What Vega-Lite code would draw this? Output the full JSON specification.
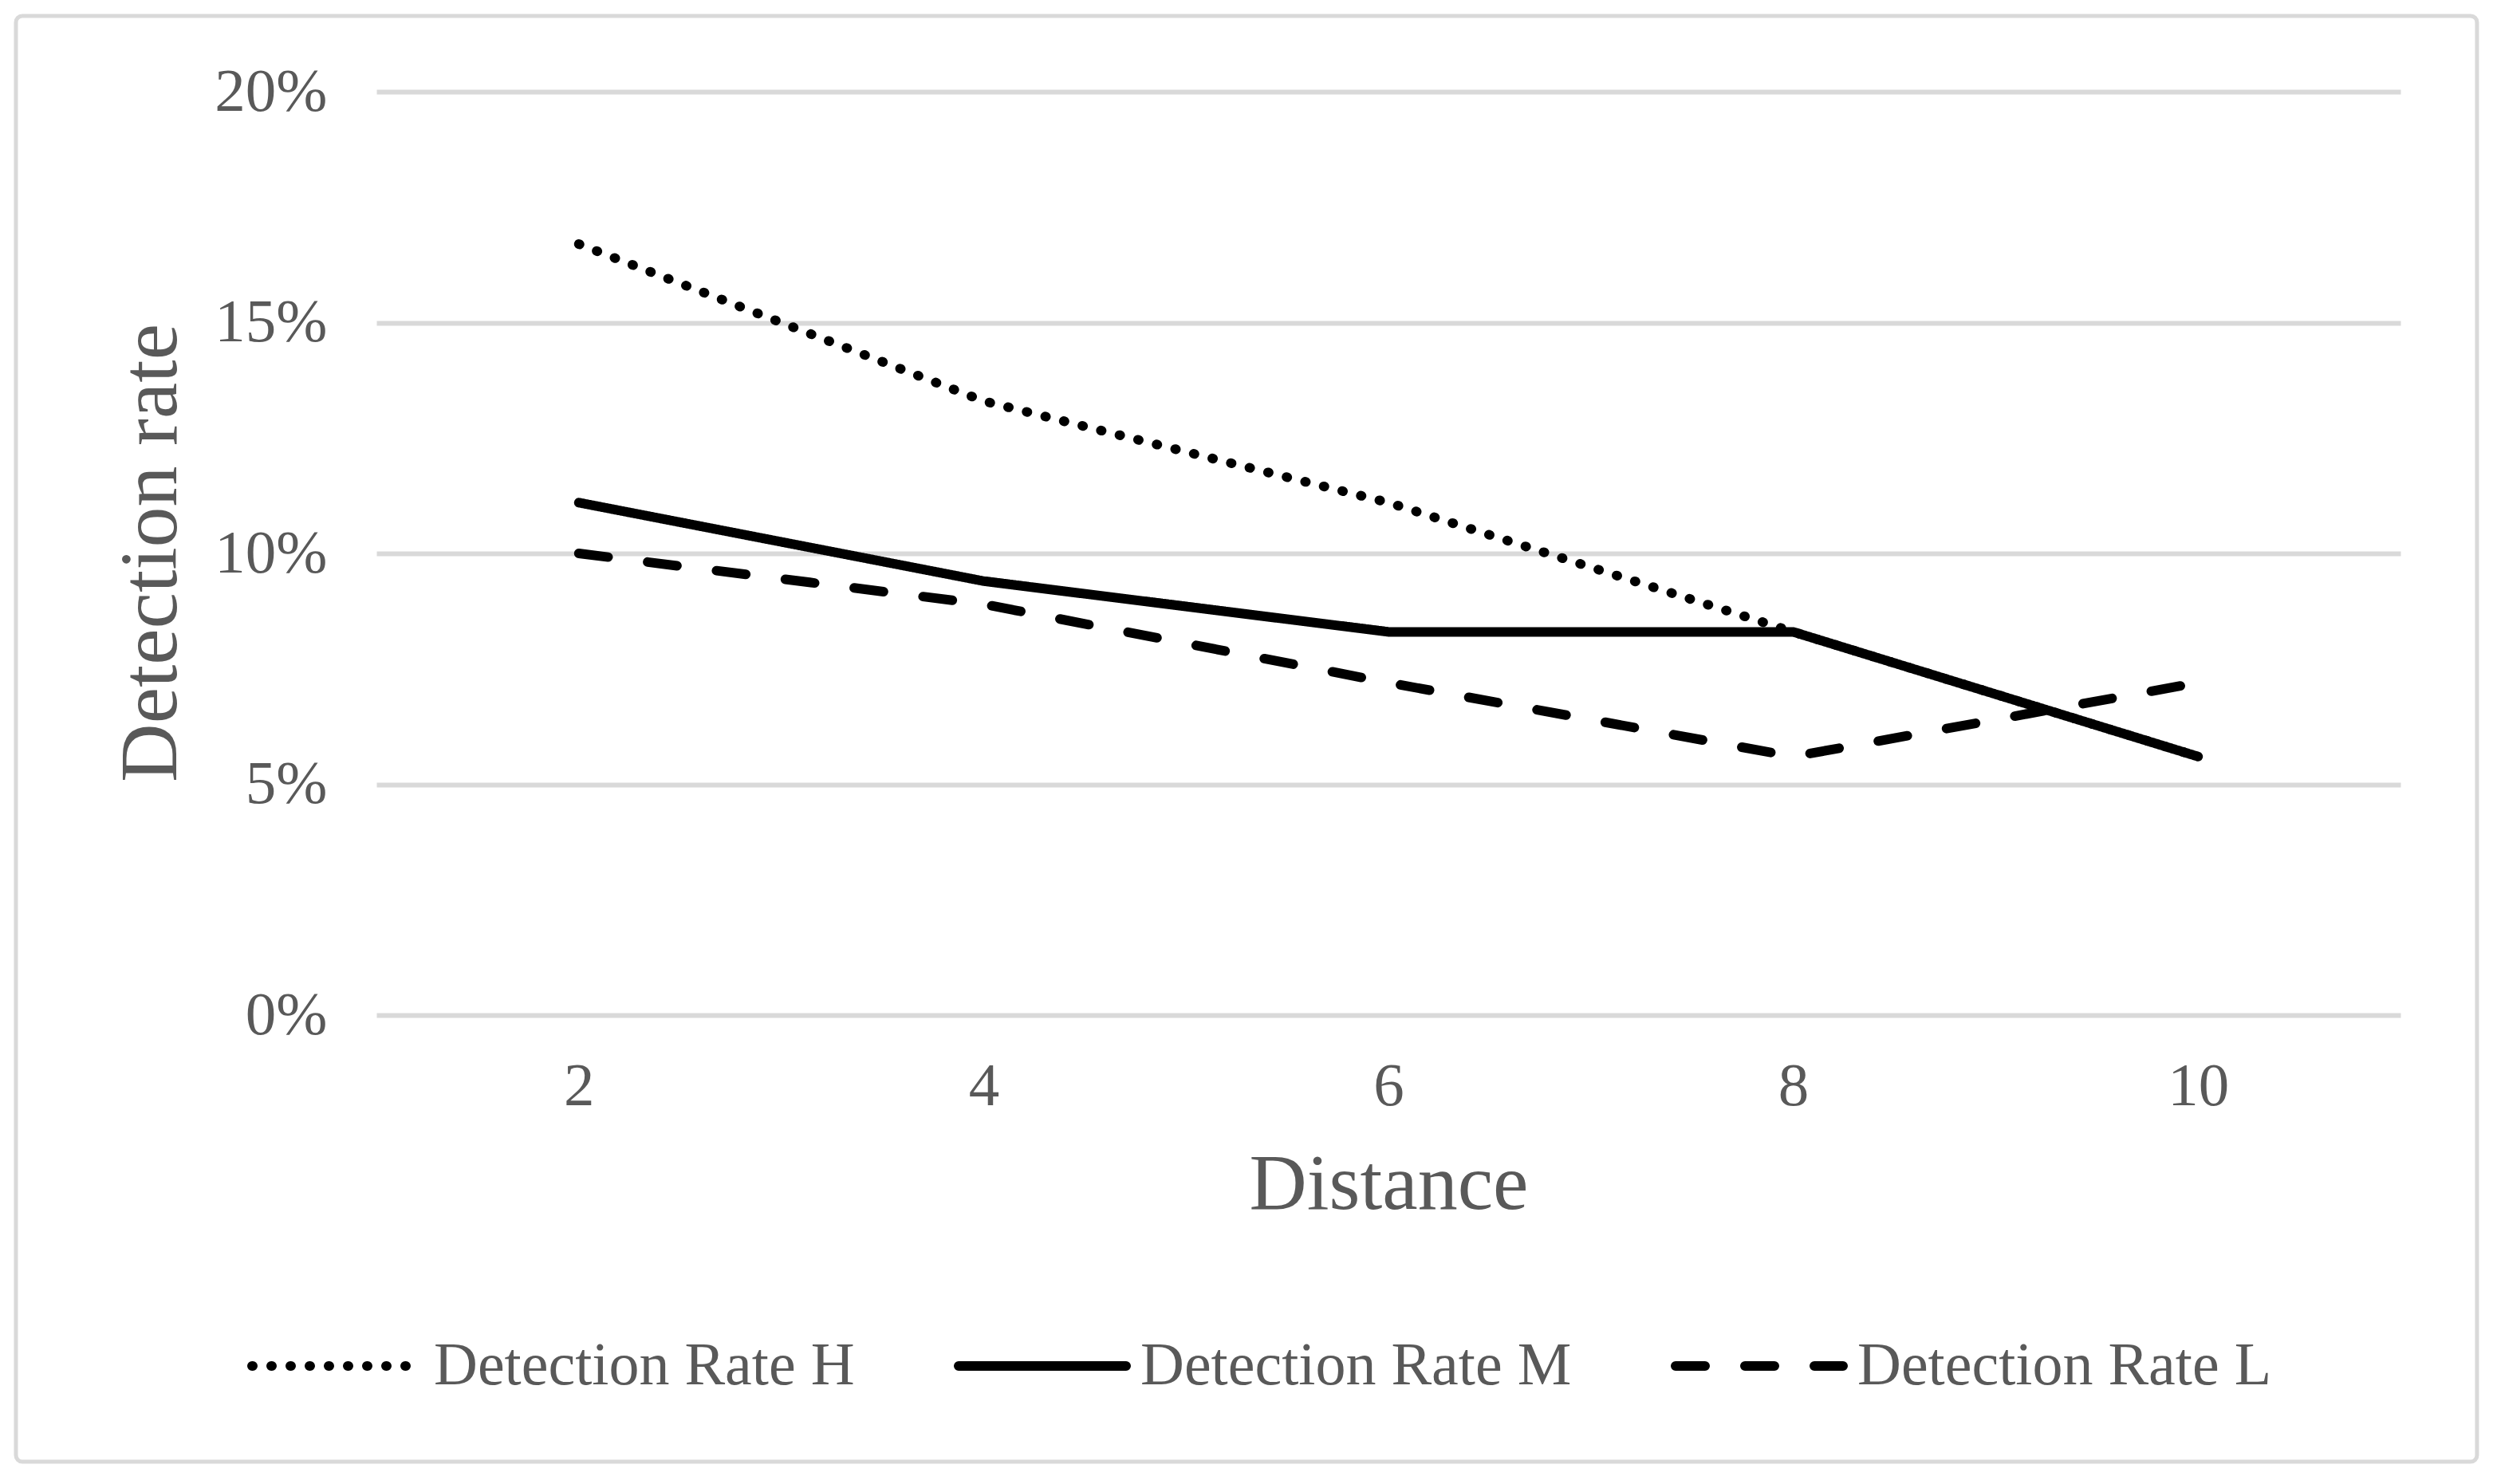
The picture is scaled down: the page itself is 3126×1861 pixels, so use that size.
{
  "$schema": "https://vega.github.io/schema/vega-lite/v6.json",
  "width": 2538,
  "height": 1158,
  "autosize": {"type": "none"},
  "padding": {"left": 472, "top": 115, "right": 116, "bottom": 588},
  "background": "white",
  "config": {
    "view": {"stroke": null},
    "font": "Liberation Serif",
    "axis": {"labelFont": "Liberation Serif", "titleFont": "Liberation Serif", "labelColor": "#595959", "titleColor": "#595959", "titleFontWeight": "normal", "domain": false, "ticks": false, "tickSize": 0},
    "legend": {"labelFont": "Liberation Serif", "labelColor": "#595959"}
  },
  "layer": [
    {
      "data": {"values": [{"frame": "outer"}]},
      "mark": {"type": "rect", "fill": null, "stroke": "#d9d9d9", "strokeWidth": 5, "cornerRadius": 8},
      "encoding": {
        "x": {"datum": -0.781, "type": "quantitative", "scale": {"domain": [1, 11], "nice": false, "zero": false}},
        "x2": {"datum": 11.378},
        "y": {"datum": 0.21641, "type": "quantitative", "scale": {"domain": [0, 0.2], "nice": false}},
        "y2": {"datum": -0.09672}
      }
    },
    {
      "data": {"values": [
        {"distance": 2, "rate": 0.167, "series": "Detection Rate H"},
        {"distance": 4, "rate": 0.133, "series": "Detection Rate H"},
        {"distance": 6, "rate": 0.111, "series": "Detection Rate H"},
        {"distance": 8, "rate": 0.083, "series": "Detection Rate H"},
        {"distance": 10, "rate": 0.056, "series": "Detection Rate H"},
        {"distance": 2, "rate": 0.111, "series": "Detection Rate M"},
        {"distance": 4, "rate": 0.094, "series": "Detection Rate M"},
        {"distance": 6, "rate": 0.083, "series": "Detection Rate M"},
        {"distance": 8, "rate": 0.083, "series": "Detection Rate M"},
        {"distance": 10, "rate": 0.056, "series": "Detection Rate M"},
        {"distance": 2, "rate": 0.100, "series": "Detection Rate L"},
        {"distance": 4, "rate": 0.089, "series": "Detection Rate L"},
        {"distance": 6, "rate": 0.072, "series": "Detection Rate L"},
        {"distance": 8, "rate": 0.056, "series": "Detection Rate L"},
        {"distance": 10, "rate": 0.072, "series": "Detection Rate L"}
      ]},
      "mark": {"type": "line", "color": "black", "strokeWidth": 12, "strokeCap": "round", "strokeJoin": "miter"},
      "encoding": {
        "x": {
          "field": "distance", "type": "quantitative",
          "scale": {"domain": [1, 11], "nice": false, "zero": false},
          "axis": {"values": [2, 4, 6, 8, 10], "format": "d", "grid": false, "title": "Distance", "labelFontSize": 77, "titleFontSize": 100, "labelPadding": 112, "labelBaseline": "alphabetic", "titleX": 1269, "titleY": 242, "titleBaseline": "alphabetic", "titleAnchor": null}
        },
        "y": {
          "field": "rate", "type": "quantitative",
          "scale": {"domain": [0, 0.2], "nice": false},
          "axis": {"values": [0, 0.05, 0.1, 0.15, 0.2], "format": ".0%", "grid": true, "gridColor": "#d9d9d9", "gridWidth": 6, "title": "Detection rate", "labelFontSize": 77, "titleFontSize": 102, "labelPadding": 62, "labelBaseline": "middle", "titleX": -252, "titleY": 578, "titleAngle": -90, "titleBaseline": "alphabetic", "titleAlign": "center"}
        },
        "strokeDash": {
          "field": "series", "type": "nominal",
          "scale": {"domain": ["Detection Rate H", "Detection Rate M", "Detection Rate L"], "range": [[1, 23], [1, 0], [37, 50]]},
          "legend": {"title": null, "orient": "none", "direction": "horizontal", "legendX": -162, "legendY": 1487, "symbolType": "stroke", "symbolSize": 44100, "symbolStrokeWidth": 12, "symbolStrokeColor": "black", "labelFontSize": 76, "labelOffset": 12, "columnPadding": 106, "labelLimit": 2000, "padding": 0,
            "encode": {"symbols": {"update": {"strokeCap": {"value": "round"}}}}}
        }
      }
    }
  ]
}
